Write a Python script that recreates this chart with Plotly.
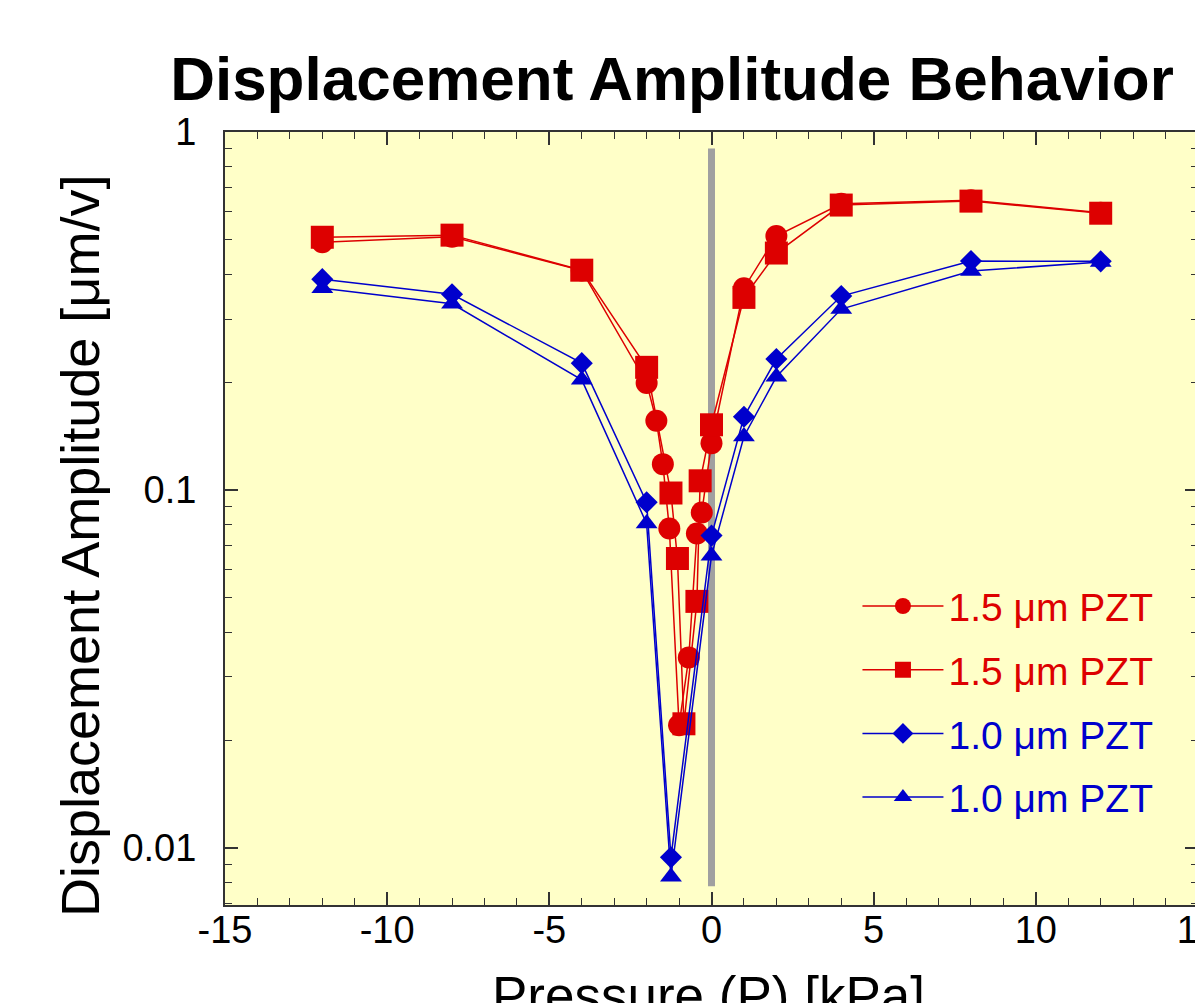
import plotly.graph_objects as go

# ---- data ----
x_red_circle = [-12, -8, -4, -2, -1.7, -1.5, -1.3, -1.0, -0.7, -0.45, -0.3, 0, 1, 2, 4, 8, 12]
y_red_circle = [0.492, 0.51, 0.41, 0.199, 0.156, 0.118, 0.078, 0.022, 0.034, 0.0755, 0.0865, 0.135,
                0.366, 0.512, 0.63, 0.645, 0.595]

x_red_square = [-12, -8, -4, -2, -1.25, -1.05, -0.85, -0.45, -0.35, 0, 1, 2, 4, 8, 12]
y_red_square = [0.508, 0.515, 0.411, 0.220, 0.098, 0.0643, 0.0222, 0.0488, 0.106, 0.152,
                0.345, 0.459, 0.625, 0.641, 0.593]

x_blue = [-12, -8, -4, -2, -1.25, 0, 1, 2, 4, 8, 12]
y_blue_diamond = [0.388, 0.352, 0.226, 0.0923, 0.0094, 0.0745, 0.160, 0.232, 0.348, 0.436, 0.435]
y_blue_triangle = [0.366, 0.331, 0.203, 0.0805, 0.0083, 0.0655, 0.141, 0.207, 0.320, 0.409, 0.433]

zero_line_x = [0, 0]
zero_line_y = [0.0078, 0.9]

names = ["1.5 μm PZT", "1.5 μm PZT", "1.0 μm PZT", "1.0 μm PZT"]

x_tickvals = [-15, -10, -5, 0, 5, 10, 15]
x_ticktext = ["-15", "-10", "-5", "0", "5", "10", "15"]
y_tickvals = [0.01, 0.1, 1]
y_ticktext = ["0.01", "0.1", "1"]
y_minor_vals = [m * 10.0 ** e for e in (-3, -2, -1) for m in range(2, 10)]

RED = "#DD0000"
BLUE = "#0000CC"
FONT = "Liberation Sans, Arial, Helvetica, sans-serif"

# page body has an 8px margin, so the figure is 8px smaller than the window
W, H = 1195, 995
L, R, T, B = 217, 5, 124, 98
PW, PH = W - L - R, H - T - B

fig = go.Figure()

# zero-pressure reference line
fig.add_trace(go.Scatter(x=zero_line_x, y=zero_line_y, mode="lines",
                         line=dict(color="#A0A0A0", width=7), showlegend=False,
                         hoverinfo="skip"))

def add(x, y, name, color, symbol, size, group):
    fig.add_trace(go.Scatter(
        x=x, y=y, mode="lines+markers",
        name=f"<span style='color:{color}'>{name}</span>",
        legendgroup=group,
        line=dict(color=color, width=1.5),
        marker=dict(symbol=symbol, size=size, color=color, line=dict(width=0)),
    ))

add(x_red_circle, y_red_circle, names[0], RED, "circle", 22, "a")
add(x_red_square, y_red_square, names[1], RED, "square", 23, "b")
add(x_blue, y_blue_diamond, names[2], BLUE, "diamond", 17, "c")
add(x_blue, y_blue_triangle, names[3], BLUE, "triangle-up", 19, "d")

fig.update_layout(
    width=W, height=H,
    margin=dict(l=L, r=R, t=T, b=B, autoexpand=False),
    paper_bgcolor="white",
    plot_bgcolor="#FFFFC8",
    font=dict(family=FONT, color="black"),
    title=dict(text="<b>Displacement Amplitude Behavior</b>",
               font=dict(size=62, family=FONT, color="black"),
               x=664 / W, xanchor="center", xref="container",
               y=1 - 70 / H, yanchor="middle", yref="container"),
    showlegend=True,
    legend=dict(x=0.650, y=0.428, xanchor="left", yanchor="top",
                bgcolor="rgba(0,0,0,0)", borderwidth=0,
                font=dict(size=39, family=FONT),
                itemwidth=81, tracegroupgap=10, traceorder="grouped"),
)

fig.update_xaxes(
    range=[-15, 15], tickmode="array", tickvals=x_tickvals, ticktext=x_ticktext,
    ticks="inside", ticklen=13, tickwidth=1.5, tickcolor="#333",
    minor=dict(ticks="inside", ticklen=7, tickwidth=1.2, tickcolor="#333", dtick=1, tick0=-15),
    showline=True, linecolor="#333", linewidth=2, mirror="allticks",
    showgrid=False, zeroline=False, automargin=False, ticklabeloverflow="allow",
    tickfont=dict(size=38, family=FONT), ticklabelstandoff=-10,
)
fig.update_yaxes(
    type="log", range=[-2.16, 0],
    tickmode="array", tickvals=y_tickvals, ticktext=y_ticktext,
    ticks="inside", ticklen=13, tickwidth=1.5, tickcolor="#333",
    minor=dict(ticks="inside", ticklen=7, tickwidth=1.2, tickcolor="#333",
               tickmode="array", tickvals=y_minor_vals),
    showline=True, linecolor="#333", linewidth=2, mirror="allticks",
    showgrid=False, zeroline=False, automargin=False, ticklabeloverflow="allow",
    tickfont=dict(size=38, family=FONT), ticklabelstandoff=19,
)

# axis titles
fig.add_annotation(text="Pressure (P) [kPa]", xref="paper", yref="paper",
                   x=(700 - L) / PW, y=-(956 - (T + PH)) / PH, xanchor="center", yanchor="top",
                   showarrow=False, font=dict(size=53, family=FONT, color="black"))
fig.add_annotation(text="Displacement Amplitude [μm/v]", xref="paper", yref="paper",
                   x=(72 - L) / PW, y=((T + PH) - 538) / PH, xanchor="center", yanchor="middle",
                   textangle=-90, showarrow=False,
                   font=dict(size=54, family=FONT, color="black"))

fig.write_html("out.html")
